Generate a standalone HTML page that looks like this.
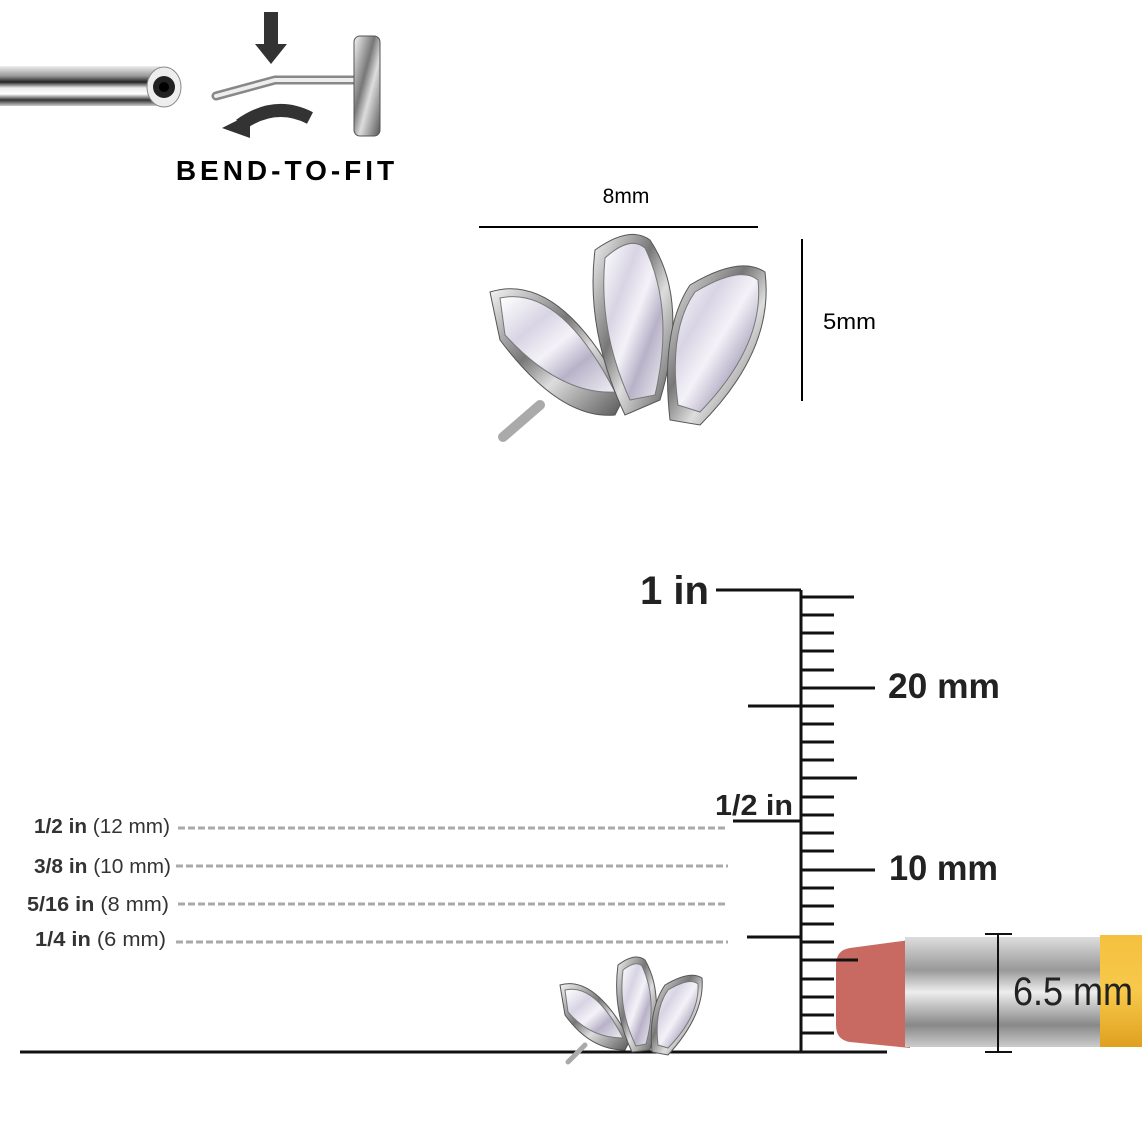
<!DOCTYPE html>
<html><head><meta charset="utf-8"><style>
html,body{margin:0;padding:0;background:#fff;}
svg{display:block;font-family:"Liberation Sans",Arial,sans-serif;}
</style></head><body>
<svg width="1142" height="1142" viewBox="0 0 1142 1142" xmlns="http://www.w3.org/2000/svg">
<defs>
<linearGradient id="bar" x1="0" y1="0" x2="0" y2="1">
<stop offset="0" stop-color="#eee"/><stop offset="0.25" stop-color="#999"/><stop offset="0.4" stop-color="#222"/><stop offset="0.55" stop-color="#eee"/><stop offset="0.7" stop-color="#fff"/><stop offset="0.85" stop-color="#333"/><stop offset="1" stop-color="#ccc"/></linearGradient>
<linearGradient id="metal" x1="0" y1="0" x2="1" y2="1">
<stop offset="0" stop-color="#f5f5f5"/><stop offset="0.4" stop-color="#777"/><stop offset="0.6" stop-color="#ddd"/><stop offset="1" stop-color="#555"/></linearGradient>
<linearGradient id="gem" x1="0" y1="0" x2="1" y2="1">
<stop offset="0" stop-color="#fff"/><stop offset="0.3" stop-color="#d8d4e4"/><stop offset="0.5" stop-color="#f4f2f8"/><stop offset="0.7" stop-color="#b8b2c8"/><stop offset="1" stop-color="#efeef4"/></linearGradient>
<linearGradient id="ferr" x1="0" y1="0" x2="0" y2="1">
<stop offset="0" stop-color="#ddd"/><stop offset="0.3" stop-color="#999"/><stop offset="0.5" stop-color="#eee"/><stop offset="0.8" stop-color="#888"/><stop offset="1" stop-color="#ccc"/></linearGradient>
<linearGradient id="wood" x1="0" y1="0" x2="0" y2="1">
<stop offset="0" stop-color="#f5c040"/><stop offset="0.5" stop-color="#f7c94a"/><stop offset="1" stop-color="#e0a020"/></linearGradient>
</defs>

<rect x="0" y="66" width="160" height="40" fill="url(#bar)"/>
<ellipse cx="164" cy="87" rx="17" ry="20" fill="#eee" stroke="#888"/>
<circle cx="164" cy="87" r="11" fill="#222"/>
<circle cx="164" cy="87" r="5" fill="#000"/>

<rect x="264" y="12" width="14" height="34" fill="#333"/>
<polygon points="255,44 287,44 271,64" fill="#333"/>
<path d="M216 96 L275 80 L354 80" stroke="#888" stroke-width="9" fill="none" stroke-linecap="round"/>
<path d="M216 96 L275 80 L354 80" stroke="#eee" stroke-width="4" fill="none" stroke-linecap="round"/>
<path d="M310 118 Q275 100 240 125" stroke="#333" stroke-width="13" fill="none"/>
<polygon points="222,128 250,114 250,138" fill="#333"/>
<rect x="354" y="36" width="26" height="100" rx="6" fill="url(#metal)"/>
<rect x="354" y="36" width="26" height="100" rx="6" fill="none" stroke="#555"/>
<text x="287" y="180" font-size="28" font-weight="bold" text-anchor="middle" letter-spacing="4">BEND-TO-FIT</text>

<text x="626" y="203" font-size="21" text-anchor="middle">8mm</text>
<line x1="479" y1="227" x2="758" y2="227" stroke="#000" stroke-width="2"/>
<line x1="802" y1="239" x2="802" y2="401" stroke="#000" stroke-width="2"/>
<text x="823" y="329" font-size="22" textLength="53" lengthAdjust="spacingAndGlyphs">5mm</text>

<g>
<line x1="503" y1="437" x2="540" y2="405" stroke="#aaa" stroke-width="10" stroke-linecap="round"/>
<path d="M490 292 Q560 270 625 395 L615 415 Q560 420 500 340 Z" fill="url(#metal)" stroke="#555"/>
<path d="M500 298 Q560 285 615 392 Q560 395 505 335 Z" fill="url(#gem)" stroke="#777"/>
<path d="M595 250 Q630 225 650 240 Q690 300 660 400 L625 415 Q585 330 595 250 Z" fill="url(#metal)" stroke="#555"/>
<path d="M605 258 Q630 235 645 248 Q675 310 655 395 L630 400 Q598 330 605 258 Z" fill="url(#gem)" stroke="#777"/>
<path d="M690 285 Q740 255 765 272 Q775 350 700 425 L670 420 Q660 330 690 285 Z" fill="url(#metal)" stroke="#555"/>
<path d="M695 292 Q740 265 758 280 Q765 345 700 412 L678 405 Q668 330 695 292 Z" fill="url(#gem)" stroke="#777"/>
</g>

<g font-size="20" fill="#333">
<text x="34" y="833" textLength="136" lengthAdjust="spacingAndGlyphs"><tspan font-weight="bold">1/2 in</tspan> (12 mm)</text>
<text x="34" y="873" textLength="137" lengthAdjust="spacingAndGlyphs"><tspan font-weight="bold">3/8 in</tspan> (10 mm)</text>
<text x="27" y="911" textLength="142" lengthAdjust="spacingAndGlyphs"><tspan font-weight="bold">5/16 in</tspan>  (8 mm)</text>
<text x="35" y="946" textLength="131" lengthAdjust="spacingAndGlyphs"><tspan font-weight="bold">1/4 in</tspan>  (6 mm)</text>
</g>
<g stroke="#aaa" stroke-width="3" stroke-dasharray="7,3">
<line x1="178" y1="828" x2="728" y2="828"/>
<line x1="176" y1="866" x2="728" y2="866"/>
<line x1="178" y1="904" x2="728" y2="904"/>
<line x1="176" y1="942" x2="728" y2="942"/>
</g>

<g stroke="#111" stroke-width="3">
<line x1="20" y1="1052" x2="887" y2="1052"/>
<line x1="801" y1="590" x2="801" y2="1052"/>
<line x1="716" y1="590" x2="801" y2="590"/>
<line x1="748" y1="706" x2="801" y2="706"/>
<line x1="733" y1="821" x2="801" y2="821"/>
<line x1="747" y1="937" x2="801" y2="937"/>
<line x1="801" y1="597" x2="854" y2="597"/>
<line x1="801" y1="688" x2="875" y2="688"/>
<line x1="801" y1="778" x2="857" y2="778"/>
<line x1="801" y1="870" x2="875" y2="870"/>
<line x1="801" y1="960" x2="858" y2="960"/>
</g>
<g stroke="#111" stroke-width="3">
<line x1="801" y1="615" x2="834" y2="615"/><line x1="801" y1="633" x2="834" y2="633"/><line x1="801" y1="651" x2="834" y2="651"/><line x1="801" y1="670" x2="834" y2="670"/>
<line x1="801" y1="706" x2="834" y2="706"/><line x1="801" y1="724" x2="834" y2="724"/><line x1="801" y1="742" x2="834" y2="742"/><line x1="801" y1="760" x2="834" y2="760"/>
<line x1="801" y1="797" x2="834" y2="797"/><line x1="801" y1="815" x2="834" y2="815"/><line x1="801" y1="833" x2="834" y2="833"/><line x1="801" y1="851" x2="834" y2="851"/>
<line x1="801" y1="888" x2="834" y2="888"/><line x1="801" y1="906" x2="834" y2="906"/><line x1="801" y1="924" x2="834" y2="924"/><line x1="801" y1="942" x2="834" y2="942"/>
<line x1="801" y1="979" x2="834" y2="979"/><line x1="801" y1="997" x2="834" y2="997"/><line x1="801" y1="1015" x2="834" y2="1015"/><line x1="801" y1="1033" x2="834" y2="1033"/>
</g>
<g font-weight="bold" fill="#222">
<text x="640" y="604" font-size="40" textLength="69" lengthAdjust="spacingAndGlyphs">1 in</text>
<text x="888" y="698" font-size="35" textLength="112" lengthAdjust="spacingAndGlyphs">20 mm</text>
<text x="715" y="815" font-size="29" textLength="78" lengthAdjust="spacingAndGlyphs">1/2 in</text>
<text x="889" y="880" font-size="35" textLength="109" lengthAdjust="spacingAndGlyphs">10 mm</text>
</g>

<path d="M850 948 L910 940 L910 1048 L850 1042 Q836 1040 836 1025 L836 965 Q836 950 850 948 Z" fill="#c96a62"/>
<rect x="905" y="937" width="200" height="110" fill="url(#ferr)"/>
<rect x="1100" y="935" width="42" height="112" fill="url(#wood)"/>
<g stroke="#111" stroke-width="2">
<line x1="998" y1="934" x2="998" y2="1052"/>
<line x1="985" y1="934" x2="1012" y2="934"/>
<line x1="985" y1="1052" x2="1012" y2="1052"/>
</g>
<line x1="801" y1="960" x2="858" y2="960" stroke="#111" stroke-width="3"/>
<text x="1013" y="1005" font-size="40" fill="#222" textLength="120" lengthAdjust="spacingAndGlyphs">6.5 mm</text>

<g>
<line x1="568" y1="1062" x2="585" y2="1045" stroke="#aaa" stroke-width="5" stroke-linecap="round"/>
<path d="M560 985 Q595 975 630 1040 L625 1050 Q590 1050 565 1015 Z" fill="url(#metal)" stroke="#555"/>
<path d="M565 990 Q595 983 623 1038 Q590 1038 568 1012 Z" fill="url(#gem)" stroke="#777"/>
<path d="M618 965 Q635 952 645 960 Q665 995 650 1050 L632 1052 Q612 1010 618 965 Z" fill="url(#metal)" stroke="#555"/>
<path d="M623 970 Q636 960 642 966 Q658 1000 646 1044 L636 1046 Q618 1010 623 970 Z" fill="url(#gem)" stroke="#777"/>
<path d="M665 985 Q690 970 702 978 Q705 1015 668 1055 L652 1052 Q648 1010 665 985 Z" fill="url(#metal)" stroke="#555"/>
<path d="M668 990 Q690 977 698 984 Q700 1015 668 1048 L658 1045 Q654 1010 668 990 Z" fill="url(#gem)" stroke="#777"/>
</g>
</svg>
</body></html>
